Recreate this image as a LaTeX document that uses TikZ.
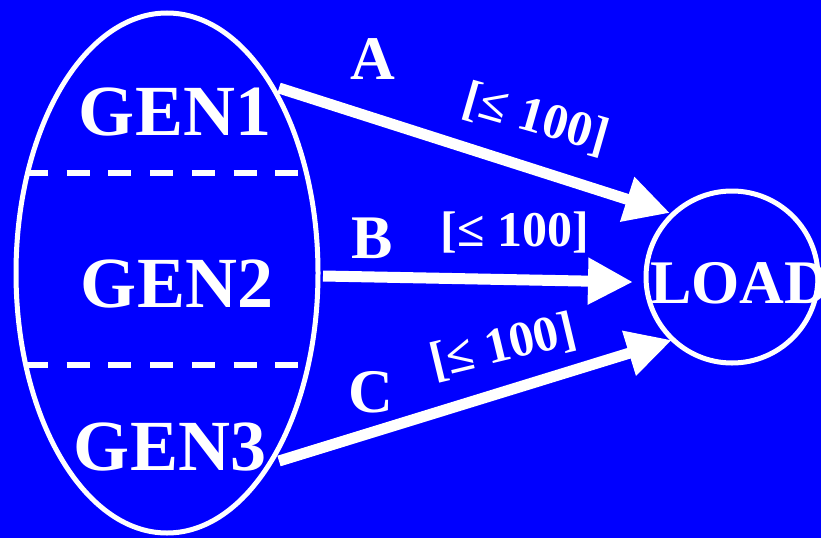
\documentclass[tikz,border=0pt]{standalone}
\usepackage{fontspec}
\setmainfont{Liberation Serif}
\usetikzlibrary{arrows.meta,shapes.geometric}
\definecolor{bg}{RGB}{0,0,255}
\tikzset{
  wline/.style={draw=white,line width=5pt},
  divider/.style={draw=white,line width=6pt,dash pattern=on 23pt off 18.7pt},
  flow/.style={draw=white,line width=11pt,-{Triangle[length=45pt,width=44pt]}},
  gen/.style={text=white,font=\bfseries\fontsize{72}{72}\selectfont,inner sep=0pt,anchor=base},
  letter/.style={text=white,font=\bfseries\fontsize{62}{62}\selectfont,inner sep=0pt,anchor=base},
  caplabel/.style={text=white,font=\bfseries\fontsize{50}{50}\selectfont,inner sep=1pt,fill=bg},
}
\begin{document}
\begin{tikzpicture}[x=1pt,y=-1pt]
\fill[bg] (0,0) rectangle (821,538);
\useasboundingbox (0,0) rectangle (821,538);
% generator ellipse
\node[ellipse,wline,minimum width=302pt,minimum height=520pt,inner sep=0pt] (gens) at (167,273) {};
\coordinate (d1l) at (25,173);  \coordinate (d1r) at (307,173);
\coordinate (d2l) at (25,365);  \coordinate (d2r) at (309,365);
\begin{scope}
\clip (167,273) ellipse [x radius=151, y radius=260];
\draw[divider] (d1l) -- (d1r);
\draw[divider] (d2l) -- (d2r);
\end{scope}
\node[gen] (g1) at (175,135) {GEN1};
\node[gen] (g2) at (177,307) {GEN2};
\node[gen] (g3) at (170,470) {GEN3};
% load circle
\node[circle,wline,minimum size=172pt,inner sep=0pt] (load) at (732,277) {};
\node[text=white,font=\bfseries\fontsize{62}{62}\selectfont,inner sep=0pt,anchor=base west] (loadtxt) at (650,303) {LOAD};
% arrow ends
\coordinate (sA) at (279,88);  \coordinate (tA) at (670,213);
\coordinate (sB) at (323,276); \coordinate (tB) at (633,282);
\coordinate (sC) at (279,461); \coordinate (tC) at (672,340);
\draw[flow] (sA) -- (tA);
\draw[flow] (sB) -- (tB);
\draw[flow] (sC) -- (tC);
% labels
\node[letter] (la) at (373,79) {A};
\node[letter] (lb) at (372,258) {B};
\node[letter] (lc) at (371,412) {C};
\node[caplabel,rotate=-16] (ca) at (536,119) {[≤ 100]};
\node[caplabel] (cb) at (515,232) {[≤ 100]};
\node[caplabel,rotate=13.5] (cc) at (503,347) {[≤ 100]};
\end{tikzpicture}
\end{document}
